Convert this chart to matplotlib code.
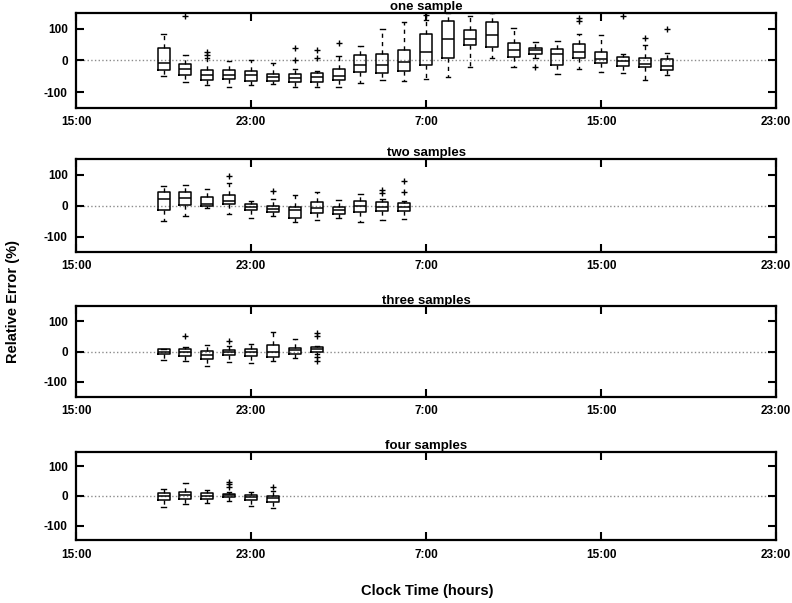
import numpy as np
import matplotlib
matplotlib.use('Agg')
import matplotlib.pyplot as plt

plt.rcParams['font.family'] = ['Liberation Sans', 'DejaVu Sans']
plt.rcParams['font.weight'] = 'bold'

# hours after 15:00 of the first box in every panel
first_hour = 4

# one sample
one_lo = [-48, -69, -79, -85, -77, -75, -85, -85, -83, -73, -61, -65, -60, -52, -20, 6, -20, 8, -42, -26, -36, -40, -61, -46]
one_q1 = [-29, -45, -61, -60, -65, -66, -67, -67, -62, -38, -39, -34, -14, 8, 48, 41, 11, 20, -15, 6, -7, -17, -21, -31]
one_med = [-7, -28, -45, -46, -45, -52, -56, -52, -48, -14, -14, -4, 27, 68, 67, 80, 34, 31, 19, 26, 3, -2, -13, -18]
one_q3 = [40, -12, -29, -29, -35, -43, -44, -40, -27, 17, 21, 31, 84, 123, 94, 121, 55, 40, 35, 51, 27, 11, 8, 4]
one_hi = [84, 18, 6, -1, 0, -8, -27, -33, 12, 46, 100, 121, 128, 148, 138, 148, 101, 59, 60, 83, 80, 21, 48, 22]
one_out = [[], [140], [26, 17], [], [], [], [40, 0], [33, 8], [56], [], [], [], [142],
           [], [], [], [], [-22], [], [133, 124], [], [140], [70], [98]]

# two samples
two_lo = [-49, -32, -9, -28, -40, -35, -54, -46, -41, -54, -46, -42]
two_q1 = [-14, 1, 0, 5, -15, -21, -41, -24, -27, -20, -17, -18]
two_med = [22, 24, 4, 15, -4, -11, -15, -7, -15, 0, -4, -4]
two_q3 = [45, 45, 29, 35, 5, -2, -4, 12, -4, 14, 11, 7]
two_hi = [65, 67, 53, 73, 16, 22, 35, 43, 17, 38, 22, 14]
two_out = [[], [], [], [95], [], [46], [], [], [], [], [50, 40], [78, 45]]

# three samples
three_lo = [-29, -32, -47, -36, -39, -32, -23, -8]
three_q1 = [-9, -16, -26, -12, -16, -17, -9, -1]
three_med = [-1, -3, -11, -2, -2, -2, 5, 7]
three_q3 = [8, 7, 1, 6, 10, 22, 11, 15]
three_hi = [10, 14, 22, 20, 24, 66, 41, 17]
three_out = [[], [51], [], [35], [], [], [], [61, 50, -17, -30]]

# four samples
four_lo = [-36, -28, -23, -16, -33, -42]
four_q1 = [-12, -9, -10, -3, -15, -19]
four_med = [-1, 3, -1, 3, -3, -6]
four_q3 = [11, 15, 9, 8, 3, 0]
four_hi = [24, 43, 19, 12, 12, 18]
four_out = [[], [], [], [47, 39, 30], [], [32]]

titles = ['one sample', 'two samples', 'three samples', 'four samples']
tick_hours = [0, 8, 16, 24, 32]
tick_labels = ['15:00', '23:00', '7:00', '15:00', '23:00']

panels = [
    (one_lo, one_q1, one_med, one_q3, one_hi, one_out),
    (two_lo, two_q1, two_med, two_q3, two_hi, two_out),
    (three_lo, three_q1, three_med, three_q3, three_hi, three_out),
    (four_lo, four_q1, four_med, four_q3, four_hi, four_out),
]

# axes rectangles in figure fractions
rects = [
    [0.096, 0.821, 0.884, 0.158],
    [0.096, 0.582, 0.884, 0.154],
    [0.096, 0.342, 0.884, 0.150],
    [0.096, 0.104, 0.884, 0.147],
]

fig = plt.figure(figsize=(7.92, 6.03), dpi=100)

for rect, title, (lo, q1, med, q3, hi, out) in zip(rects, titles, panels):
    ax = fig.add_axes(rect)
    stats = []
    for i in range(len(med)):
        stats.append({'whislo': lo[i], 'q1': q1[i], 'med': med[i], 'q3': q3[i],
                      'whishi': hi[i], 'fliers': out[i]})
    pos = np.arange(first_hour, first_hour + len(med))
    ax.axhline(0, color='0.55', ls=':', lw=1.0, zorder=0)
    ax.bxp(stats, positions=pos, widths=0.55, showfliers=True,
           boxprops=dict(color='black', lw=1.1),
           medianprops=dict(color='black', lw=1.1),
           whiskerprops=dict(color='black', lw=1.0, ls=(0, (3, 3))),
           capprops=dict(color='black', lw=1.0),
           flierprops=dict(marker='+', markeredgecolor='black', markersize=5, markeredgewidth=1.0),
           capwidths=0.2, manage_ticks=False)
    ax.set_xlim(0, 32)
    ax.set_ylim(-150, 150)
    ax.set_xticks(tick_hours)
    ax.set_xticklabels(tick_labels)
    ax.set_yticks([-100, 0, 100])
    ax.set_yticklabels(['-100', '0', '100'])
    ax.tick_params(direction='in', length=6, width=1.5, top=True, right=True,
                   labelsize=8.5, pad=6)
    for sp in ax.spines.values():
        sp.set_linewidth(1.6)
    ax.set_title(title, fontsize=9.5, fontweight='bold', pad=2)

fig.text(0.017, 0.5, 'Relative Error (%)', rotation=90, va='center', ha='center',
         fontsize=10.5, fontweight='bold')
fig.text(0.54, 0.02, 'Clock Time (hours)', va='center', ha='center',
         fontsize=10.5, fontweight='bold')

fig.savefig('out.png', dpi=100)
